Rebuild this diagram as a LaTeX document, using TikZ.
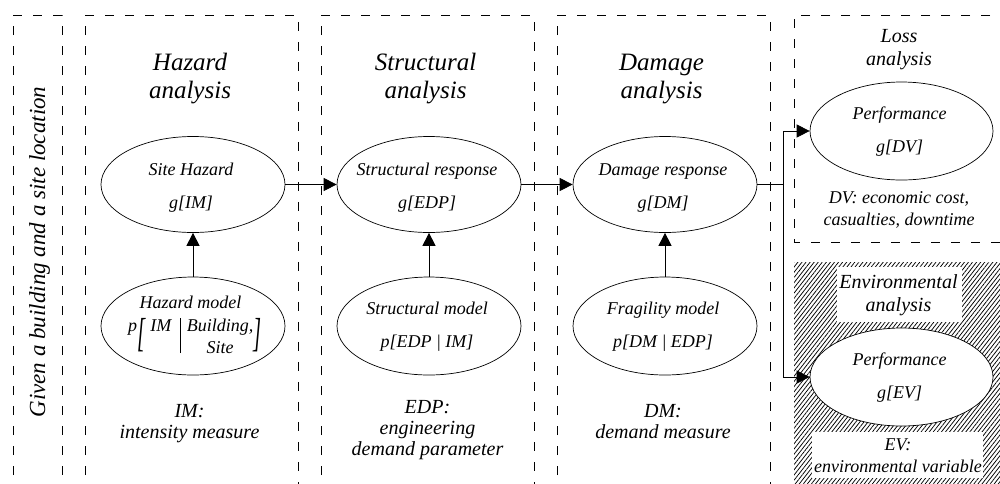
\documentclass[tikz,border=0pt]{standalone}
\usepackage{fontspec}
\setmainfont{Liberation Serif}
\usepackage{graphicx}
\usetikzlibrary{arrows.meta,patterns.meta,shapes.geometric}
\newcommand{\twoln}[2]{\begin{tabular}[t]{@{}c@{}}#1\\#2\end{tabular}}
\begin{document}
\begin{tikzpicture}[x=1pt,y=-1pt,
  box/.style={draw, dash pattern=on 9pt off 11pt, line width=0.7pt},
  ell/.style={draw, ellipse, inner sep=0pt, line width=0.7pt, minimum width=184pt, minimum height=96pt},
  arr/.style={-{Triangle[length=13pt,width=13pt]}, line width=0.8pt},
  etxt/.style={anchor=base, inner sep=0pt, font=\itshape\fontsize{18}{33.5}\selectfont},
  head/.style={anchor=base, inner sep=0pt, font=\itshape\fontsize{25}{28}\selectfont},
  btm/.style={anchor=base, inner sep=0pt, font=\itshape\fontsize{20}{21}\selectfont},
  smallhead/.style={anchor=base, inner sep=0pt, font=\itshape\fontsize{20}{23}\selectfont},
  note/.style={anchor=base, inner sep=0pt, font=\itshape\fontsize{18}{22}\selectfont}
]
\useasboundingbox (0,0) rectangle (1000,483);

% hatched environmental area
\fill[pattern={Lines[angle=52,distance=3.2pt,line width=0.75pt]}] (794,262) rectangle (1010,490);
\fill[white] (837,267) rectangle (962,322);
\fill[white] (812,432) rectangle (983,478);

% dashed boxes
\draw[box] (13,495) -- (13,15) -- (62,15) -- (62,495);
\draw[box] (85,495) -- (85,15) -- (298,15) -- (298,495);
\draw[box] (321,495) -- (321,15) -- (534,15) -- (534,495);
\draw[box] (557,495) -- (557,15) -- (770,15) -- (770,495);
\draw[box] (1010,15) -- (794,15) -- (794,242) -- (1010,242);

% left text
\node[rotate=90, anchor=base, inner sep=0pt, font=\itshape\fontsize{23}{27}\selectfont] (given) at (45,252) {Given a building and a site location};

% headings
\node[head] (hzh) at (190,70) {\twoln{Hazard}{analysis}};
\node[head] (sth) at (425.5,70) {\twoln{Structural}{analysis}};
\node[head] (dmh) at (661.5,70) {\twoln{Damage}{analysis}};
\node[smallhead] (lsh) at (899,42) {\twoln{Loss}{analysis}};
\node[smallhead] (envh) at (898.5,288) {\twoln{Environmental}{analysis}};

% ellipses
\node[ell] (sh) at (193,184.5) {};
\node[ell] (sr) at (429,184.5) {};
\node[ell] (dr) at (665,184.5) {};
\node[ell, minimum height=98pt] (hm) at (193,326) {};
\node[ell, minimum height=98pt] (sm) at (429,326) {};
\node[ell, minimum height=98pt] (fm) at (665,326) {};
\node[ell, minimum width=183pt, minimum height=98pt] (loss) at (901.5,131) {};
\node[ell, fill=white, minimum width=183pt, minimum height=98pt] (ev) at (901.5,377) {};

% ellipse texts
\node[etxt] (sht) at (191,175) {\twoln{Site Hazard}{g[IM]}};
\node[etxt] (srt) at (427,175) {\twoln{Structural response}{g[EDP]}};
\node[etxt] (drt) at (663,175) {\twoln{Damage response}{g[DM]}};
\node[etxt] (hmt) at (190.5,308) {Hazard model};
\node[anchor=base west, inner sep=0pt, font=\itshape\fontsize{18}{22}\selectfont] (hmf) at (128,331)
  {p\raisebox{-15pt}{\scalebox{1.15}[2.25]{[}}\hspace{5pt}IM\hspace{9pt}\raisebox{-22pt}{\rule{0.7pt}{35pt}}\hspace{6pt}\begin{tabular}[t]{@{}c@{}}Building,\\Site\end{tabular}\raisebox{-15pt}{\scalebox{1.15}[2.25]{]}}};
\node[etxt] (smt) at (427,314) {\twoln{Structural model}{p[EDP | IM]}};
\node[etxt] (fmt) at (663,314) {\twoln{Fragility model}{p[DM | EDP]}};
\node[etxt] (losst) at (899.5,119) {\twoln{Performance}{g[DV]}};
\node[etxt] (evt) at (899.5,365) {\twoln{Performance}{g[EV]}};

% bottom texts
\node[btm] (imt) at (189.5,417) {\twoln{IM:}{intensity measure}};
\node[btm] (edpt) at (427.5,413) {\begin{tabular}[t]{@{}c@{}}EDP:\\engineering\\demand parameter\end{tabular}};
\node[btm] (dmt) at (663,417) {\twoln{DM:}{demand measure}};
\node[note] (dvt) at (899,203) {\twoln{DV: economic cost,}{casualties, downtime}};
\node[note] (evv) at (898,450) {\twoln{EV:}{environmental variable}};

% arrows
\draw[arr] (hm.north) -- (sh.south);
\draw[arr] (sm.north) -- (sr.south);
\draw[arr] (fm.north) -- (dr.south);
\draw[arr] (sh.east) -- (sr.west);
\draw[arr] (sr.east) -- (dr.west);
\coordinate (split) at (783,184.5);
\draw[line width=0.8pt] (dr.east) -- (split);
\draw[arr] (split) |- (loss.west);
\draw[arr] (split) |- (ev.west);
\end{tikzpicture}
\end{document}
